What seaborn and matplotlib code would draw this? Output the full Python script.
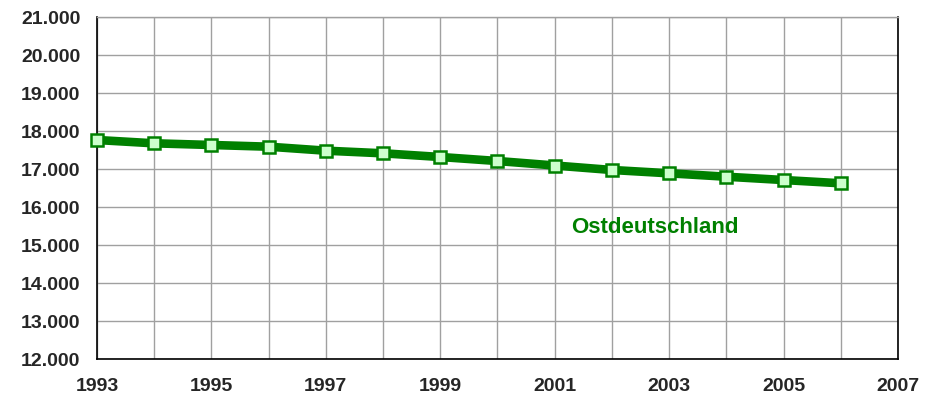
import pandas as pd
import matplotlib.pyplot as plt
import seaborn as sns
from matplotlib.ticker import FuncFormatter, MultipleLocator, FixedLocator

# Values
years = [1993, 1994, 1995, 1996, 1997, 1998, 1999, 2000,
         2001, 2002, 2003, 2004, 2005, 2006]
values = [17763, 17676, 17632, 17587, 17482, 17413, 17316, 17210,
          17092, 16974, 16887, 16797, 16710, 16624]
year_ticks = [1993, 1995, 1997, 1999, 2001, 2003, 2005, 2007]
series_label = "Ostdeutschland"

df = pd.DataFrame({"Jahr": years, "Wert": values})

sns.set_theme(style="white")
plt.rcParams['font.family'] = ['Liberation Sans', 'DejaVu Sans']

fig = plt.figure(figsize=(9.33, 4.0), dpi=100)
ax = fig.add_axes([97 / 933, 1 - 359 / 400, (898 - 97) / 933, (359 - 17) / 400])

sns.lineplot(data=df, x="Jahr", y="Wert", ax=ax, color="#008000", linewidth=6.2,
             marker="s", markersize=8.5, markerfacecolor="#ccffcc",
             markeredgecolor="#008000", markeredgewidth=1.8, zorder=3, clip_on=False)

ax.set_xlim(1993, 2007)
ax.set_ylim(12000, 21000)
ax.xaxis.set_major_locator(FixedLocator(year_ticks))
ax.xaxis.set_minor_locator(MultipleLocator(1))
ax.yaxis.set_major_locator(MultipleLocator(1000))
ax.yaxis.set_major_formatter(FuncFormatter(lambda v, p: f"{v:,.0f}".replace(",", ".")))

ax.grid(True, which="both", axis="x", color="#a0a0a0", linewidth=1.0)
ax.grid(True, which="major", axis="y", color="#a0a0a0", linewidth=1.0)
ax.tick_params(axis="both", which="both", length=0, labelsize=14)
ax.tick_params(axis="x", pad=14)
ax.tick_params(axis="y", pad=12)
for lbl in ax.get_xticklabels() + ax.get_yticklabels():
    lbl.set_fontweight("bold")

for side in ["left", "bottom", "right"]:
    ax.spines[side].set_color("#000000")
    ax.spines[side].set_linewidth(1.2)
ax.spines["top"].set_color("#a0a0a0")
ax.spines["top"].set_linewidth(1.0)

ax.set_xlabel("")
ax.set_ylabel("")

ax.text(2001.29, 15450, series_label, color="#008000", fontsize=16,
        fontweight="bold", ha="left", va="center")

fig.savefig("out.png", dpi=100)
